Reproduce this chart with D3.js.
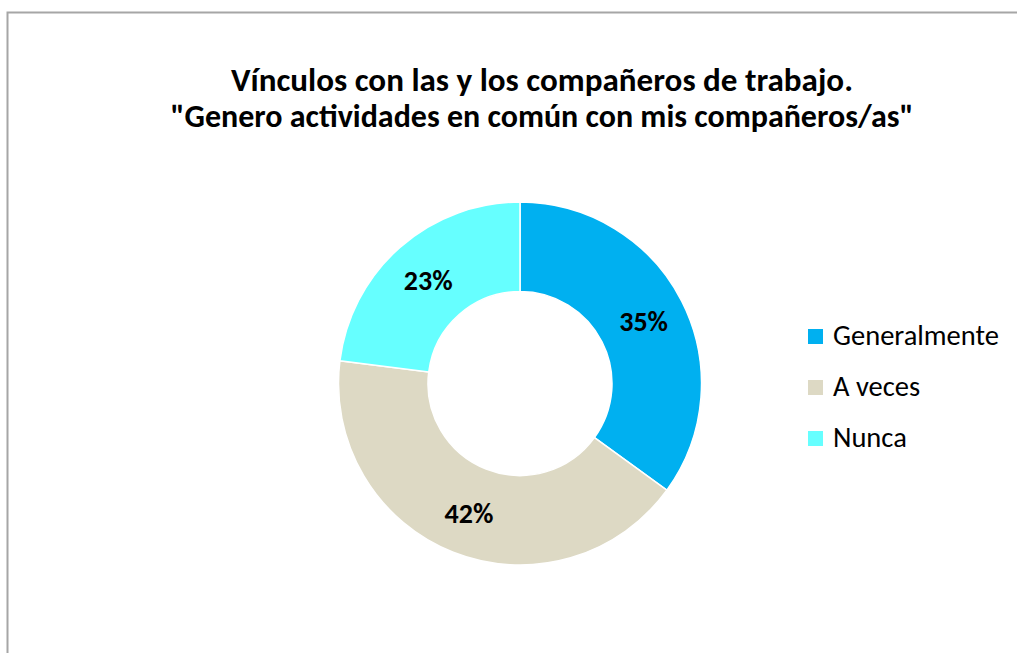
<!DOCTYPE html>
<html>
<head>
<meta charset="utf-8">
<script src="https://cdn.jsdelivr.net/npm/d3@7"></script>
<style>
  body { margin: 0; background: #fff; }
  svg { display: block; }
</style>
</head>
<body>
<svg id="chart" width="1017" height="653"></svg>
<script>
const categories = ["Generalmente", "A veces", "Nunca"];
const values = [35, 42, 23];
const colors = ["#00B0F0", "#DDD9C4", "#66FFFF"];
const title_lines = [
    "Vínculos con las y los compañeros de trabajo.",
    "\"Genero actividades en común con mis compañeros/as\""
];

const width = 1017, height = 653;
const cx = 520, cy = 383.5;
const outer_r = 181.5, inner_r = 92;
const font = "Carlito, Calibri, Lato, 'Open Sans', sans-serif";

const svg = d3.select("#chart");

// chart area border (runs off the right and bottom of the picture)
svg.append("rect")
    .attr("x", 7.5).attr("y", 12.5)
    .attr("width", width + 20).attr("height", height + 20)
    .attr("fill", "none")
    .attr("stroke", "#a6a6a6")
    .attr("stroke-width", 2);

// title
const title_widths = [622, 740];
const title_y = [91, 127];
title_lines.forEach((t, i) => {
    const el = svg.append("text")
        .attr("x", 542).attr("y", title_y[i])
        .attr("text-anchor", "middle")
        .attr("font-family", font)
        .attr("font-weight", "bold")
        .attr("font-size", "32px")
        .attr("fill", "#000")
        .text(t);
    const w = el.node().getComputedTextLength();
    if (Math.abs(w - title_widths[i]) > 8) {
        el.attr("textLength", title_widths[i]).attr("lengthAdjust", "spacingAndGlyphs");
    }
});

const pie = d3.pie().sort(null).value(d => d)(values);
const arc = d3.arc().innerRadius(inner_r).outerRadius(outer_r);
const mid_r = (inner_r + outer_r) / 2 + 2;
const label_arc = d3.arc().innerRadius(mid_r).outerRadius(mid_r);

const g = svg.append("g").attr("transform", `translate(${cx},${cy})`);

g.selectAll("path.slice")
    .data(pie)
    .join("path")
    .attr("class", "slice")
    .attr("d", arc)
    .attr("fill", (d, i) => colors[i])
    .attr("stroke", "#fff")
    .attr("stroke-width", 1.5);

g.selectAll("text.lbl")
    .data(pie)
    .join("text")
    .attr("class", "lbl")
    .attr("transform", d => `translate(${label_arc.centroid(d)})`)
    .attr("text-anchor", "middle")
    .attr("dy", "0.36em")
    .attr("font-family", font)
    .attr("font-weight", "bold")
    .attr("font-size", "28px")
    .attr("fill", "#000")
    .text(d => Math.round(d.data) + "%");

// legend
const legend_x = 808, legend_y0 = 336.5, legend_step = 51;
const leg = svg.append("g");
const items = leg.selectAll("g")
    .data(categories)
    .join("g")
    .attr("transform", (d, i) => `translate(${legend_x},${legend_y0 + i * legend_step})`);
items.append("rect")
    .attr("x", 0).attr("y", -7.5)
    .attr("width", 15).attr("height", 15)
    .attr("fill", (d, i) => colors[i]);
items.append("text")
    .attr("x", 25).attr("y", 8.5)
    .attr("font-family", font)
    .attr("font-size", "28.5px")
    .attr("fill", "#000")
    .text(d => d);
</script>
</body>
</html>
